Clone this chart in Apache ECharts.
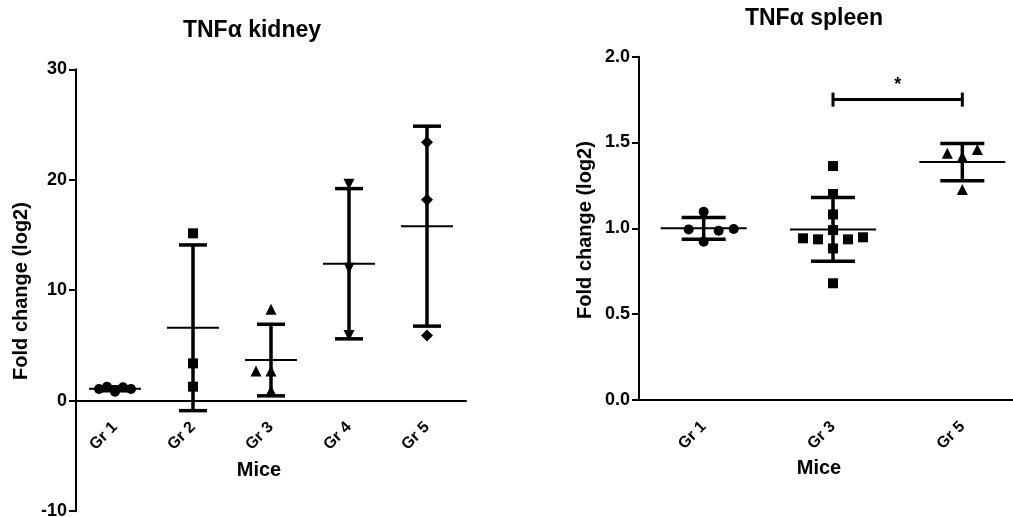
<!DOCTYPE html>
<html>
<head>
<meta charset="utf-8">
<title>TNFα kidney / spleen</title>
<script src="https://cdn.jsdelivr.net/npm/echarts@6/dist/echarts.min.js"></script>
<style>
  html, body { margin: 0; padding: 0; background: #fff; }
  #main { width: 1013px; height: 517px; }
</style>
</head>
<body>
<div id="main"></div>
<script>
  // ---- data ----
  // kidney
  const kidneyGroups = ['Gr 1', 'Gr 2', 'Gr 3', 'Gr 4', 'Gr 5']
  const kidneyPoints = [
    [1.06, 1.27, 0.82, 1.21, 1.06],
    [15.15, 3.38, 1.27],
    [8.27, 2.69, 2.69, 0.9],
    [19.6, 12.0, 5.9],
    [23.4, 18.2, 5.9]
  ]
  const kidneyMean = [1.08, 6.6, 3.68, 12.4, 15.8]
  const kidneySD = [0.18, 7.5, 3.24, 6.8, 9.05]
  const kidneyTicks = [0, 10, 20, 30]
  const kidneyNegTicks = [-10, 0]   // y axis continues below the x axis

  // spleen
  const spleenGroups = ['Gr 1', 'Gr 3', 'Gr 5']
  const spleenPoints = [
    [0.994, 1.097, 0.922, 0.986, 0.996],
    [0.942, 0.936, 1.363, 1.2, 1.081, 0.99, 0.883, 0.68, 0.936, 0.948],
    [1.437, 1.417, 1.46, 1.227]
  ]
  const spleenMean = [1.0, 0.994, 1.386]
  const spleenSD = [0.063, 0.185, 0.108]
  const spleenTicks = [0, 0.5, 1.0, 1.5, 2.0]
  const spleenSig = [[1, 2, 1.75, '*']]   // from group, to group, level, label

  // ---- layout / style (pixels, not data) ----
  const kidneyJitter = [[-16, -8, 0, 8, 16], [0, 0, 0], [0, -15, 0, 0], [0, 0, 0], [0, 0, 0]]
  const spleenJitter = [[-15, 0, 0, 15, 30], [-30, -15, 0, 0, 0, 0, 0, 0, 15, 30], [-15, 0, 15, 0]]
  const kidneySymbols = [
    {symbol: 'circle', size: 10, rotate: 0},
    {symbol: 'rect', size: 10, rotate: 0},
    {symbol: 'triangle', size: 11, rotate: 0},
    {symbol: 'triangle', size: 11, rotate: 180},
    {symbol: 'diamond', size: 12, rotate: 0}
  ]
  const spleenSymbols = [
    {symbol: 'circle', size: 10, rotate: 0},
    {symbol: 'rect', size: 10, rotate: 0},
    {symbol: 'triangle', size: 11, rotate: 0}
  ]

  const FONT = '"Liberation Sans", Arial, Helvetica, sans-serif'
  const INK = '#000'

  function xAxisOf (gridIndex, groups, visible) {
    return {
      type: 'category',
      gridIndex: gridIndex,
      show: visible,
      data: groups,
      axisLine: {onZero: false, lineStyle: {color: INK, width: 2}},
      axisTick: {alignWithLabel: true, interval: 0, length: 7, lineStyle: {color: INK, width: 2}},
      axisLabel: {
        interval: 0, rotate: 45, margin: 24,
        color: INK, fontSize: 16, fontWeight: 'bold', fontFamily: FONT
      },
      splitLine: {show: false}
    }
  }

  function yAxisOf (gridIndex, ticks, digits, hideTop) {
    return {
      type: 'value',
      gridIndex: gridIndex,
      min: ticks[0],
      max: ticks[ticks.length - 1],
      interval: ticks[1] - ticks[0],
      axisLine: {show: true, onZero: false, lineStyle: {color: INK, width: 2}},
      axisTick: {show: true, length: 7, lineStyle: {color: INK, width: 2}},
      axisLabel: {
        margin: 9, color: INK, fontSize: 18, fontWeight: 'bold', fontFamily: FONT,
        showMaxLabel: !hideTop,
        formatter: v => v.toFixed(digits)
      },
      splitLine: {show: false}
    }
  }

  // mean line (thin, wide) + SD whiskers (thick)
  function errorBars (axisIndex, means, sds, meanHalf, capHalf) {
    return {
      type: 'custom',
      xAxisIndex: axisIndex,
      yAxisIndex: axisIndex,
      z: 2,
      clip: false,
      data: means.map((m, i) => [i, m, sds[i]]),
      renderItem (params, api) {
        const i = api.value(0)
        const m = api.value(1)
        const s = api.value(2)
        const c = api.coord([i, m])
        const hi = api.coord([i, m + s])[1]
        const lo = api.coord([i, m - s])[1]
        const thick = {stroke: INK, lineWidth: 3.5}
        return {
          type: 'group',
          children: [
            {type: 'line', shape: {x1: c[0], y1: hi, x2: c[0], y2: lo}, style: thick},
            {type: 'line', shape: {x1: c[0] - capHalf, y1: hi, x2: c[0] + capHalf, y2: hi}, style: thick},
            {type: 'line', shape: {x1: c[0] - capHalf, y1: lo, x2: c[0] + capHalf, y2: lo}, style: thick},
            {type: 'line', shape: {x1: c[0] - meanHalf, y1: c[1], x2: c[0] + meanHalf, y2: c[1]}, style: {stroke: INK, lineWidth: 2}}
          ]
        }
      }
    }
  }

  function pointSeries (axisIndex, points, jitter, symbols) {
    return points.map((vals, i) => ({
      type: 'scatter',
      xAxisIndex: axisIndex,
      yAxisIndex: axisIndex,
      z: 3,
      clip: false,
      symbol: symbols[i].symbol,
      symbolSize: symbols[i].size,
      symbolRotate: symbols[i].rotate,
      itemStyle: {color: INK, opacity: 1},
      emphasis: {disabled: true},
      data: vals.map((v, j) => ({value: [i, v], symbolOffset: [jitter[i][j], 0]}))
    }))
  }

  const sigSeries = {
    type: 'custom',
    xAxisIndex: 1,
    yAxisIndex: 1,
    z: 4,
    data: spleenSig,
    renderItem (params, api) {
      const a = api.coord([api.value(0), api.value(2)])
      const b = api.coord([api.value(1), api.value(2)])
      const st = {stroke: INK, lineWidth: 3}
      return {
        type: 'group',
        children: [
          {type: 'line', shape: {x1: a[0], y1: a[1], x2: b[0], y2: b[1]}, style: st},
          {type: 'line', shape: {x1: a[0], y1: a[1] - 7, x2: a[0], y2: a[1] + 7}, style: st},
          {type: 'line', shape: {x1: b[0], y1: b[1] - 7, x2: b[0], y2: b[1] + 7}, style: st},
          {
            type: 'text',
            x: (a[0] + b[0]) / 2,
            y: a[1] - 15,
            style: {
              text: spleenSig[params.dataIndex][3], fill: INK,
              fontSize: 18, fontWeight: 'bold', fontFamily: FONT,
              align: 'center', verticalAlign: 'middle'
            }
          }
        ]
      }
    }
  }

  function label (text, x, y, size, rot) {
    return {
      type: 'text', x: x, y: y, rotation: rot || 0,
      style: {text: text, fill: INK, fontSize: size, fontWeight: 'bold', fontFamily: FONT, align: 'center', verticalAlign: 'middle'}
    }
  }

  const option = {
    animation: false,
    backgroundColor: '#fff',
    grid: [
      {left: 76, top: 69.3, width: 390, height: 331.4, outerBoundsMode: 'none'},
      {left: 639, top: 56.7, width: 388, height: 343.3, outerBoundsMode: 'none'},
      {left: 76, top: 400.7, width: 390, height: 110.5, outerBoundsMode: 'none'}
    ],
    xAxis: [
      xAxisOf(0, kidneyGroups, true),
      xAxisOf(1, spleenGroups, true),
      xAxisOf(2, kidneyGroups, false)
    ],
    yAxis: [
      yAxisOf(0, kidneyTicks, 0, false),
      yAxisOf(1, spleenTicks, 1, false),
      yAxisOf(2, kidneyNegTicks, 0, true)
    ],
    graphic: [
      label('TNFα kidney', 252, 31, 23),
      label('TNFα spleen', 814, 18.5, 23),
      label('Mice', 259, 470, 20),
      label('Mice', 819, 468.5, 20),
      label('Fold change (log2)', 21, 291, 20, Math.PI / 2),
      label('Fold change (log2)', 585, 230, 20, Math.PI / 2)
    ],
    series: [
      errorBars(0, kidneyMean, kidneySD, 26, 14),
      errorBars(1, spleenMean, spleenSD, 43, 22),
      ...pointSeries(0, kidneyPoints, kidneyJitter, kidneySymbols),
      ...pointSeries(1, spleenPoints, spleenJitter, spleenSymbols),
      sigSeries
    ]
  }

  const myChart = echarts.init(document.getElementById('main'))
  myChart.setOption(option)
</script>
</body>
</html>
